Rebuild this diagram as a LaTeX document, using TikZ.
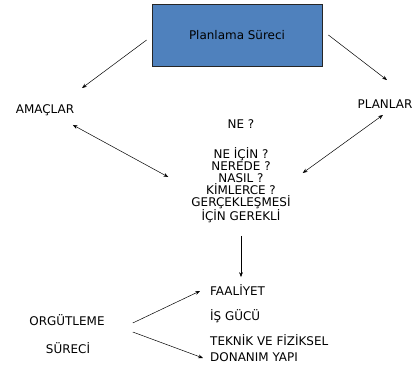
\documentclass[tikz,border=0pt]{standalone}
\usepackage{fontspec}
\setmainfont{DejaVu Sans}
\usetikzlibrary{positioning, arrows.meta}
\definecolor{surecmavi}{HTML}{4F81BD}
\tikzset{
  yazi/.style={font=\fontsize{12}{12}\selectfont, inner sep=0pt, align=center},
  tekyazi/.style={yazi, text height=9bp, text depth=2.5bp},
  solyazi/.style={tekyazi, anchor=west},
  kutu/.style={yazi, draw=black!85, line width=0.8pt, fill=surecmavi,
               minimum width=170bp, minimum height=62bp},
  ok/.style={-{Stealth[length=1.7mm, width=1.3mm]}, line width=0.5pt},
  ciftok/.style={{Stealth[length=1.7mm, width=1.3mm]}-{Stealth[length=1.7mm, width=1.3mm]}, line width=0.5pt},
}

\begin{document}
\begin{tikzpicture}[x=1bp, y=-1bp, node distance=4bp]
        \useasboundingbox (0,0) rectangle (418,370);
        \node[kutu](surec) at (237,35){Planlama Süreci};
        \node[tekyazi](amac) at (45,110){AMAÇLAR};
        \node[tekyazi](plan) at (385,105){PLANLAR};
        \node[tekyazi](ne) at (241,125){NE ?};
        \node[yazi](soru) at (241,185){NE İÇİN ?\\NEREDE ?\\NASIL ?\\KİMLERCE ?\\GERÇEKLEŞMESİ\\İÇİN GEREKLİ};
        \node[solyazi](faal) at (210,292){FAALİYET};
        \node[solyazi](isgucu) at (210,317){İŞ GÜCÜ};
        \node[solyazi](teknik) at (210,342){TEKNİK VE FİZİKSEL};
        \node[solyazi](donanim) at (210,358){DONANIM YAPI};
        \node[tekyazi](orgut) at (67,322){ORGÜTLEME};
        \node[tekyazi](orgsurec) at (68,350){SÜRECİ};
        \draw[ok]([xshift=-5bp, yshift=-5bp]surec.west)--([xshift=37bp, yshift=16bp]amac.north);
        \draw[ok]([xshift=6bp]surec.east)--([xshift=2bp, yshift=19bp]plan.north);
        \draw[ciftok]([xshift=-1.5bp, yshift=-9bp]amac.south east)--([xshift=-23bp, yshift=8bp]soru.west);
        \draw[ciftok]([xshift=-2bp, yshift=-4bp]plan.south)--([xshift=12bp, yshift=12bp]soru.east);
        \draw[ok]([yshift=-13bp]soru.south)--([yshift=9bp]soru.south |- faal.north);
        \draw[ok]([xshift=28bp, yshift=-1bp]orgut.east)--([xshift=-10bp, yshift=1bp]faal.west);
        \draw[ok]([xshift=28bp, yshift=-10bp]orgut.east)--([xshift=-7bp]donanim.west);
      \end{tikzpicture}
\end{document}
